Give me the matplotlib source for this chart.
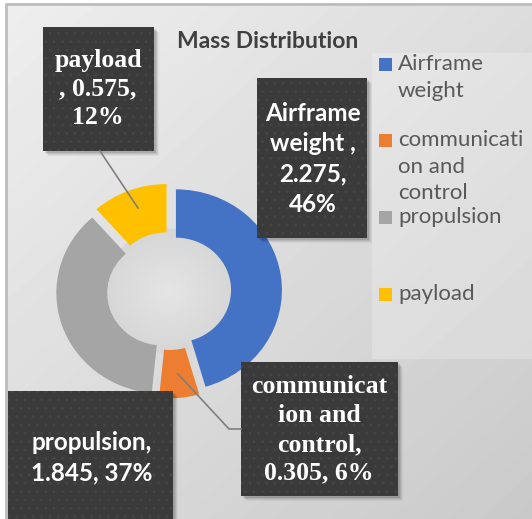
import numpy as np
import matplotlib
matplotlib.use("Agg")
import matplotlib.pyplot as plt
from matplotlib.patches import Rectangle, Circle

# ---------------- data ----------------
categories = ["Airframe weight", "communication and control", "propulsion", "payload"]
values = [2.275, 0.305, 1.845, 0.575]
colors = ["#4472C4", "#ED7D31", "#A5A5A5", "#FFC000"]
legend_labels = ["Airframe\nweight", "communicati\non and\ncontrol", "propulsion", "payload"]
data_labels = ["Airframe\nweight ,\n2.275,\n46%",
               "communicat\nion and\ncontrol,\n0.305, 6%",
               "propulsion,\n1.845, 37%",
               "payload\n, 0.575,\n12%"]
title = "Mass Distribution"

# ---------------- layout ----------------
W, H = 532, 519
SY = 0.95          # vertical squash of the chart drawing
fig = plt.figure(figsize=(W / 100, H / 100), dpi=100)
fig.patch.set_facecolor("white")


def Y(y):
    return (H - y) / SY


def base_axes(z):
    a = fig.add_axes([0, 0, 1, 1], zorder=z)
    a.set_xlim(0, W)
    a.set_ylim(0, H / SY)
    a.axis("off")
    a.patch.set_visible(False)
    return a


ax = base_axes(0)

# background gradient
yy, xx = np.mgrid[3.5:H:1.0, 5.5:W:1.0]
v = 0.935 - 0.145 * ((xx * 0.9 + yy) / (W * 0.9 + H))
ax.imshow(v, cmap="gray", vmin=0, vmax=1, extent=(5.5, W, Y(H), Y(3.5)),
          aspect="auto", origin="upper", interpolation="bilinear")
ax.plot([5.5, 5.5, W], [Y(H), Y(3.5), Y(3.5)], color="#bdbdbd", lw=2, solid_capstyle="butt")
ax.set_xlim(0, W)
ax.set_ylim(0, H / SY)

# legend panel
ax.add_patch(Rectangle((372, Y(359)), W - 372, (359 - 53) / SY,
                       facecolor="white", alpha=0.22, lw=0))

# title
ax.text(268, Y(42), title, ha="center", va="center", fontsize=16.5, fontweight="bold",
        color="#404040", family="Lato")

# ---------------- donut ----------------
cx, cy, R = 169, 291, 106
M = 1.3
ax2 = fig.add_axes([(cx - M * R) / W, (H - cy - M * R * SY) / H,
                    2 * M * R / W, 2 * M * R * SY / H], zorder=1)
# hole shading
for i in range(25):
    r = 0.62 * (1 - i / 25)
    g = 0.84 + 0.055 * (i / 24)
    ax2.add_patch(Circle((0, 0), r, facecolor=(g, g, g), lw=0))
ax2.pie(values, colors=colors, startangle=90, counterclock=False, radius=1,
        explode=[0.066] * len(values),
        wedgeprops=dict(width=0.48, linewidth=0))
ax2.set_aspect("auto")
ax2.set_xlim(-M, M)
ax2.set_ylim(-M, M)
ax2.axis("off")
ax2.patch.set_visible(False)

# ---------------- labels / legend on top ----------------
ax3 = base_axes(2)

# leader lines
ax3.plot([100, 138], [Y(151), Y(208)], color="#7f7f7f", lw=1.2)
ax3.plot([178, 229, 241], [Y(374), Y(429), Y(429)], color="#7f7f7f", lw=1.2)

boxes = [  # x0, y0, x1, y1 (pixels), text centre, family, size, linespacing
    (257, 78, 367, 238, 313, 159, "Lato", 17.5, 1.37),
    (241, 362, 398, 496, 319, 430, "Liberation Serif", 18.5, 1.32),
    (8, 391, 173, 530, 92, 458, "Lato", 17.5, 1.37),
    (43, 27, 154, 151, 98, 89, "Liberation Serif", 18.5, 1.32),
]
for (x0, y0, x1, y1, tx, ty, fam, fs, ls), lab in zip(boxes, data_labels):
    for k, a in enumerate([0.10, 0.08, 0.06, 0.04]):
        d = 1.5 + k * 1.2
        ax3.add_patch(Rectangle((x0 + d, Y(y1 + d)), x1 - x0, (y1 - y0) / SY,
                                facecolor="black", alpha=a, lw=0))
    ax3.add_patch(Rectangle((x0, Y(y1)), x1 - x0, (y1 - y0) / SY,
                            facecolor="#3a3a3a", edgecolor="#444444", lw=0, hatch=".."))
    ax3.text(tx, Y(ty), lab, ha="center", va="center", color="white", fontsize=fs,
             fontweight="bold", family=fam, linespacing=ls)

# legend (manual, Excel-like irregular spacing)
leg_y = [64, 140, 217, 294]
for col, lab, ly in zip(colors, legend_labels, leg_y):
    ax3.add_patch(Rectangle((379, Y(ly + 6.5)), 13, 13 / SY, facecolor=col, lw=0))
    ax3.text(398, Y(ly - 10), lab, ha="left", va="top", fontsize=16, color="#595959",
             family="Lato", linespacing=1.42)

fig.savefig("out.png", dpi=100)
